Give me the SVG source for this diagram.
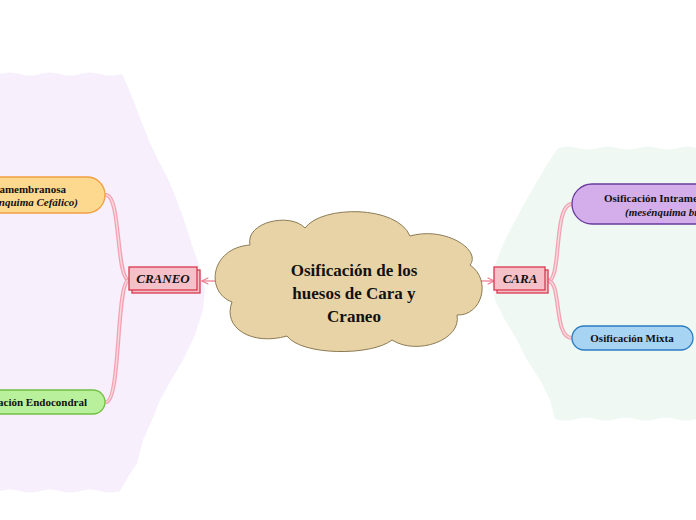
<svg xmlns="http://www.w3.org/2000/svg" width="696" height="520" viewBox="0 0 696 520">
<defs>
<style>
.t{font-family:"Liberation Serif","DejaVu Serif",serif;font-weight:bold;fill:#111;}
.it{font-style:italic;}
.branch{fill:none;stroke:#f2a3b3;stroke-width:4;stroke-linecap:round;}
.branchIn{fill:none;stroke:#fbd7de;stroke-width:1.4;stroke-linecap:round;}
.arr{fill:none;stroke:#f07d93;stroke-width:1.3;}
.mainbox{fill:#f5c0c8;stroke:#d8394f;stroke-width:1.3;}
</style>
<marker id="ah" viewBox="0 0 10 10" refX="9" refY="5" markerWidth="8" markerHeight="8" orient="auto" markerUnits="userSpaceOnUse">
<path d="M1,1 L9,5 L1,9" fill="none" stroke="#f07d93" stroke-width="1.5"/>
</marker>
</defs>
<rect width="696" height="520" fill="#ffffff"/>
<g id="bg-left">
<path fill="#f7effc" d="M0,74 q10,-3 20,0 q10,3 20,0 q10,-3 20,0 q10,3 20,0 q10,-3 20,0 q11,3 22,0 L127,85 L134,102 L142,123 L150,143 L158,160 L167,177 L176,198 L184,220 L192,245 L200,268 L205,290 L203,310 L195,335 L183,360 L170,382 L160,400 L152,420 L143,440 L137,463 L128,477 L120,491 q-10,3 -20,0 q-10,-3 -20,0 q-10,3 -20,0 q-10,-3 -20,0 q-10,3 -20,0 q-10,-3 -20,0 Z"/>
</g>
<g id="bg-right">
<path fill="#eff8f3" d="M558,148 q10,-3 20,0 q10,3 20,0 q10,-3 20,0 q10,3 20,0 q10,-3 20,0 q10,3 20,0 q9,-3 18,0 L696,419 q-10,3 -20,0 q-10,-3 -20,0 q-10,3 -20,0 q-10,-3 -20,0 q-10,3 -20,0 q-10,-3 -20,0 q-11,3 -21,0 L550,400 L540,380 L527,360 L517,340 L505,320 L495,300 L492,285 L495,265 L505,240 L517,217 L528,197 L538,180 L548,163 Z"/>
</g>
<g id="connectors">
<path class="branch" d="M129,280 C116,280 121,195 106,195"/>
<path class="branchIn" d="M129,280 C116,280 121,195 106,195"/>
<path class="branch" d="M129,280 C116,280 121,402 106,402"/>
<path class="branchIn" d="M129,280 C116,280 121,402 106,402"/>
<path class="branch" d="M548,281 C562,281 553,204 572,204"/>
<path class="branchIn" d="M548,281 C562,281 553,204 572,204"/>
<path class="branch" d="M548,281 C562,281 553,338 572,338"/>
<path class="branchIn" d="M548,281 C562,281 553,338 572,338"/>
<path class="arr" d="M218,281 L202,281" marker-end="url(#ah)"/>
<path class="arr" d="M479,281 L494,281" marker-end="url(#ah)"/>
</g>
<g id="center">
<path fill="#e8d3a6" stroke="#8c7b55" stroke-width="1" d="M232,302 C205,292 210,248 250,245 C245,222 290,212 305,228 C322,205 397,205 410,236 C445,226 482,250 470,265 C492,280 482,316 457,315 C462,340 417,356 392,340 C372,356 302,356 287,336 C252,346 222,328 232,302 Z"/>
<text class="t" font-size="17" text-anchor="middle" x="354" y="276">Osificación de los</text>
<text class="t" font-size="17" text-anchor="middle" x="354" y="299">huesos de Cara y</text>
<text class="t" font-size="17" text-anchor="middle" x="354" y="322">Craneo</text>
</g>
<g id="craneo">
<rect class="mainbox" x="132" y="270" width="68" height="23"/>
<rect class="mainbox" x="129" y="267" width="68" height="23"/>
<text class="t it" font-size="13" text-anchor="middle" x="163" y="283">CRANEO</text>
</g>
<g id="cara">
<rect class="mainbox" x="497" y="270" width="51" height="23"/>
<rect class="mainbox" x="494" y="267" width="51" height="23"/>
<text class="t it" font-size="13" text-anchor="middle" x="520" y="283">CARA</text>
</g>
<g id="intramembranosa-craneo">
<rect x="-140" y="177" width="245" height="36" rx="18" fill="#fdd98f" stroke="#f0a040" stroke-width="1.3"/>
<text class="t" font-size="11" text-anchor="end" x="66" y="193">Osificación Intramembranosa</text>
<text class="t it" font-size="11" text-anchor="end" x="78" y="206">(mesénquima Cefálico)</text>
</g>
<g id="endocondral">
<rect x="-100" y="390" width="205" height="24" rx="12" fill="#b9f09c" stroke="#72c044" stroke-width="1.3"/>
<text class="t" font-size="11" text-anchor="end" x="87" y="406">Osificación Endocondral</text>
</g>
<g id="intramembranosa-cara">
<rect x="572" y="184" width="250" height="40" rx="20" fill="#d4aeea" stroke="#6a3a9c" stroke-width="1.3"/>
<text class="t" font-size="11" x="604" y="202">Osificación Intramembranosa</text>
<text class="t it" font-size="11" x="625" y="216">(mesénquima branquial)</text>
</g>
<g id="mixta">
<rect x="572" y="326" width="121" height="24" rx="12" fill="#a8d4f4" stroke="#2b7cc2" stroke-width="1.3"/>
<text class="t" font-size="11" text-anchor="middle" x="632" y="342">Osificación Mixta</text>
</g>
</svg>
